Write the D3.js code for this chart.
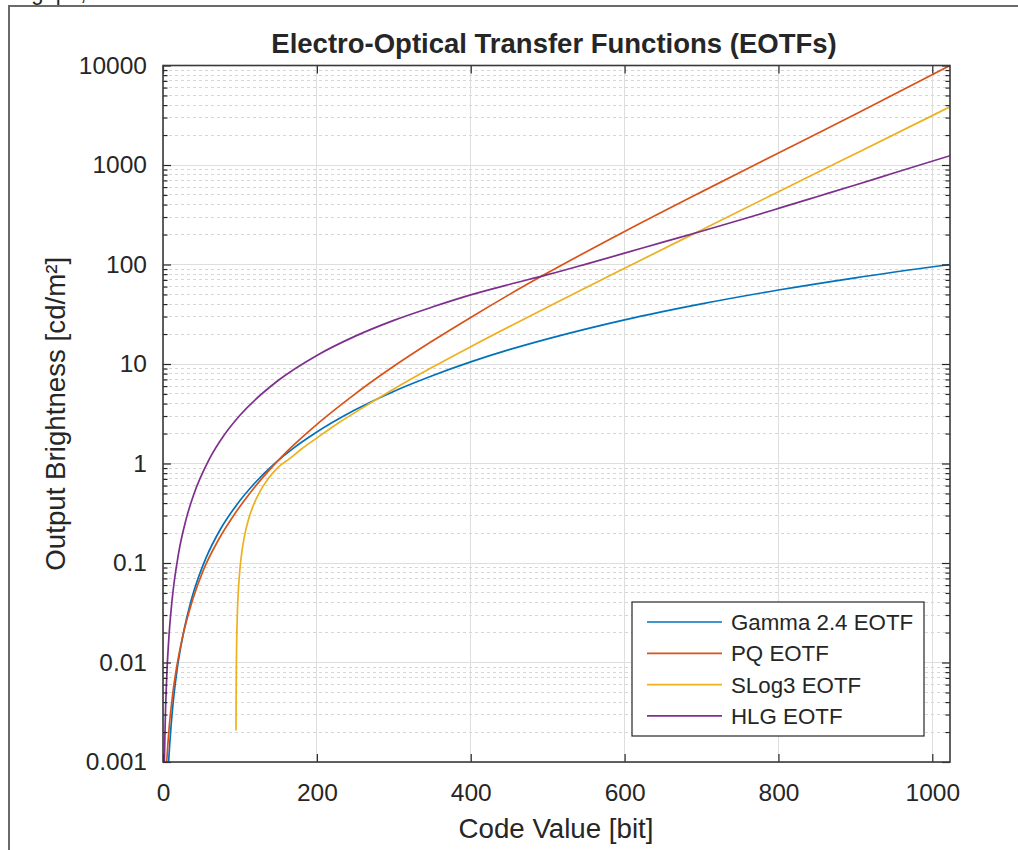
<!DOCTYPE html>
<html><head><meta charset="utf-8">
<script src="https://cdn.jsdelivr.net/npm/d3@7"></script>
<style>
body{margin:0;background:#fff}
svg{display:block}
text{font-family:"Liberation Sans",Arial,Helvetica,sans-serif;fill:#262626}
</style>
</head><body>
<svg id="c" width="1018" height="850"></svg>
<script>
// ---- data ----
const xTickValues = [0, 200, 400, 600, 800, 1000];
const yTickValues = [0.001, 0.01, 0.1, 1, 10, 100, 1000, 10000];
const yTickLabels = ["0.001", "0.01", "0.1", "1", "10", "100", "1000", "10000"];
const seriesNames = ["Gamma 2.4 EOTF", "PQ EOTF", "SLog3 EOTF", "HLG EOTF"];
const seriesColors = ["#0072BD", "#D95319", "#EDB120", "#7E2F8E"];

const gammaCode = [7.3,8.7,10.5,13.2,17.8,22.5,27.2,36.5,46,55.5,75,95,120,145,170.5,196.5,248,299,350,400,450,500,600,700,800,900,1023];
const gammaNits = [0.001,0.0015,0.00232,0.00397,0.00792,0.01352,0.02096,0.0418,0.0714,0.1106,0.2207,0.377,0.644,0.997,1.444,1.99,3.40,5.27,7.62,10.5,13.93,17.9,27.8,40.2,55.4,73.5,100];

const pqCode = [4.8,6.2,8,12.5,17,26,35,44,53,72.5,92.5,117.5,142.5,168,194,246,297.5,349,400,450,500,600,700,800,900,1023];
const pqNits = [0.001,0.00147,0.00222,0.00474,0.00829,0.01886,0.03476,0.0570,0.0867,0.1733,0.3059,0.5576,0.9367,1.486,2.258,4.76,9.21,16.81,29.4,49.8,82.4,214.7,537,1319,3240,10000];

const slog3Code = [94.92,95.06,95.33,95.68,96.12,97.0,98.32,100.08,102.72,106.24,110.64,116.8,125.6,136.2,148.5,165,180,197,228.5,260,300,350,400,500,600,700,800,900,1023];
const slog3Nits = [0.00207,0.00443,0.00886,0.01476,0.0221,0.0369,0.0590,0.0886,0.1329,0.1919,0.2657,0.3690,0.5167,0.6938,0.9005,1.125,1.40,1.739,2.567,3.644,5.605,9.259,14.93,37.43,91.70,222.6,538.4,1300,3842];

const hlgCode = [1.81,2,3,5,8,12,20,30,40,60,80,100,150,200,250,300,350,400,450,500,550,600,650,700,750,800,850,900,950,1023];
const hlgNits = [0.001,0.00122,0.002745,0.007625,0.01952,0.04392,0.122,0.2745,0.488,1.098,1.952,3.05,6.86,12.2,19.06,27.45,37.36,49.5,63,79,101,130,168,216,280,366,480,630,830,1240];

// ---- layout ----
const svg = d3.select("#c");
const L = 163, R = 950, T = 65.5, B = 762;
const x = d3.scaleLinear().domain([0, 1023]).range([L, R]);
const y = d3.scaleLog().domain([0.001, 10000]).range([B, T]);

// outer frame (cropped figure border)
svg.append("path").attr("d", "M9,852 L9,6 L1020,6")
  .attr("fill", "none").attr("stroke", "#6a6a6a").attr("stroke-width", 2);
svg.append("text").attr("x", 13).attr("y", -0.5).attr("font-size", 22).attr("fill", "#333").text("Fig. po,");

// plot background
svg.append("rect").attr("x", L).attr("y", T).attr("width", R - L).attr("height", B - T).attr("fill", "#fff");

// minor grid (y)
const minorVals = [];
for (let e = -3; e < 4; e++) for (let k = 2; k <= 9; k++) minorVals.push(k * Math.pow(10, e));
svg.append("g").selectAll("line").data(minorVals).join("line")
  .attr("x1", L).attr("x2", R).attr("y1", d => y(d)).attr("y2", d => y(d))
  .attr("stroke", "#d6d6d6").attr("stroke-width", 1).attr("stroke-dasharray", "3,3")
  .attr("shape-rendering", "crispEdges");
// major grid
svg.append("g").selectAll("line").data(yTickValues).join("line")
  .attr("x1", L).attr("x2", R).attr("y1", d => y(d)).attr("y2", d => y(d))
  .attr("stroke", "#dedede").attr("stroke-width", 1).attr("shape-rendering", "crispEdges");
svg.append("g").selectAll("line").data(xTickValues).join("line")
  .attr("x1", d => x(d)).attr("x2", d => x(d)).attr("y1", T).attr("y2", B)
  .attr("stroke", "#dedede").attr("stroke-width", 1).attr("shape-rendering", "crispEdges");

// curves
svg.append("clipPath").attr("id", "clip").append("rect")
  .attr("x", L).attr("y", T - 1).attr("width", R - L).attr("height", B - T + 2);
const seriesCodes = [gammaCode, pqCode, slog3Code, hlgCode];
const seriesNitsArr = [gammaNits, pqNits, slog3Nits, hlgNits];
const line = d3.line().x(d => x(d[0])).y(d => y(d[1])).curve(d3.curveMonotoneX);
const gCurves = svg.append("g").attr("clip-path", "url(#clip)");
seriesCodes.forEach((codes, i) => {
  const pts = codes.map((c, j) => [c, seriesNitsArr[i][j]]);
  gCurves.append("path").datum(pts).attr("d", line)
    .attr("fill", "none").attr("stroke", seriesColors[i]).attr("stroke-width", 1.7)
    .attr("stroke-linejoin", "round");
});

// axes
function styleAxis(g, fs) {
  g.select(".domain").remove();
  g.selectAll("line").attr("stroke", "#262626").attr("stroke-width", 1.2);
  g.selectAll("text").attr("font-size", fs).attr("font-family", '"Liberation Sans",Arial,sans-serif').attr("fill", "#262626");
  g.attr("font-size", null).attr("font-family", null);
}
const fmt = d => yTickLabels[yTickValues.indexOf(d)];
svg.append("g").attr("transform", `translate(${L},0)`)
  .call(d3.axisLeft(y).tickValues(yTickValues).tickFormat(fmt).tickSize(-8).tickPadding(16))
  .call(g => styleAxis(g, 24.5));
svg.append("g").attr("transform", `translate(${L},0)`)
  .call(d3.axisLeft(y).tickValues(minorVals).tickFormat("").tickSize(-4.5))
  .call(g => styleAxis(g, 24));
svg.append("g").attr("transform", `translate(${R},0)`)
  .call(d3.axisRight(y).tickValues(yTickValues).tickFormat("").tickSize(-8))
  .call(g => styleAxis(g, 24));
svg.append("g").attr("transform", `translate(${R},0)`)
  .call(d3.axisRight(y).tickValues(minorVals).tickFormat("").tickSize(-4.5))
  .call(g => styleAxis(g, 24));
svg.append("g").attr("transform", `translate(0,${B})`)
  .call(d3.axisBottom(x).tickValues(xTickValues).tickFormat(d3.format("d")).tickSize(-8).tickPadding(22))
  .call(g => styleAxis(g, 24.5));
svg.append("g").attr("transform", `translate(0,${T})`)
  .call(d3.axisTop(x).tickValues(xTickValues).tickFormat("").tickSize(-8))
  .call(g => styleAxis(g, 24));

// box
svg.append("rect").attr("x", L).attr("y", T).attr("width", R - L).attr("height", B - T)
  .attr("fill", "none").attr("stroke", "#3a3a3a").attr("stroke-width", 1.6);

// title & labels
svg.append("text").attr("x", 554).attr("y", 53).attr("text-anchor", "middle")
  .attr("font-size", 27.5).attr("font-weight", "bold").attr("fill", "#111")
  .text("Electro-Optical Transfer Functions (EOTFs)");
svg.append("text").attr("x", 556).attr("y", 838).attr("text-anchor", "middle")
  .attr("font-size", 27.7).text("Code Value [bit]");
svg.append("text").attr("transform", `translate(65,${(T + B) / 2}) rotate(-90)`).attr("text-anchor", "middle")
  .attr("font-size", 27.7).text("Output Brightness [cd/m²]");

// legend
const lg = svg.append("g");
lg.append("rect").attr("x", 632).attr("y", 602).attr("width", 292).attr("height", 134)
  .attr("fill", "#fff").attr("stroke", "#262626").attr("stroke-width", 1.2);
seriesNames.forEach((n, i) => {
  const cy = 622 + i * 31.3;
  lg.append("line").attr("x1", 647).attr("x2", 722).attr("y1", cy).attr("y2", cy)
    .attr("stroke", seriesColors[i]).attr("stroke-width", 1.7);
  lg.append("text").attr("x", 731).attr("y", cy + 8).attr("font-size", 22.3).text(n);
});
</script>
</body></html>
